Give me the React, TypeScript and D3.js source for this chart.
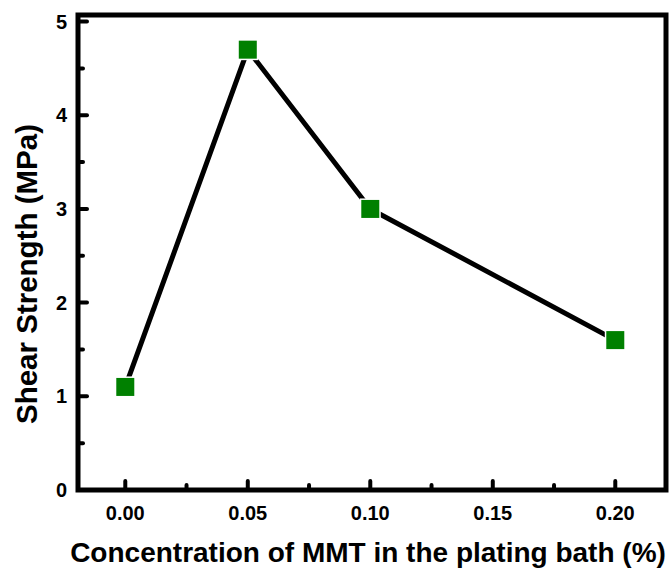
import React from "react";
import * as d3 from "d3";

const concentrations = [0.0, 0.05, 0.1, 0.2];
const shearStrength = [1.1, 4.7, 3.0, 1.6];
const xMajorTicks = [0.0, 0.05, 0.1, 0.15, 0.2];
const xMinorTicks = [0.025, 0.075, 0.125, 0.175];
const yMajorTicks = [0, 1, 2, 3, 4, 5];
const yMinorTicks = [0.5, 1.5, 2.5, 3.5, 4.5];
const xLabel = "Concentration of MMT in the plating bath (%)";
const yLabel = "Shear Strength (MPa)";

export default function App() {
  const W = 670, H = 573;
  const left = 78, right = 666, top = 15, bottom = 490;
  const x = d3.scaleLinear().domain([-0.0193, 0.2207]).range([left, right]);
  const y = d3.scaleLinear().domain([0, 5.07]).range([bottom, top]);
  const line = d3.line<number>().x((d, i) => x(concentrations[i])).y((d) => y(d));
  const font = "'Liberation Sans', Arial, sans-serif";
  const ms = 18;
  return (
    <svg width={W} height={H} style={{ position: "absolute", left: 0, top: 0, background: "#fff" }}>
      <rect x={0} y={0} width={W} height={H} fill="#fff" />
      <path d={line(shearStrength) || ""} fill="none" stroke="#000" strokeWidth={5} strokeLinejoin="round" />
      {shearStrength.map((v, i) => (
        <rect key={i} x={x(concentrations[i]) - ms / 2} y={y(v) - ms / 2} width={ms} height={ms}
          fill="#008000" stroke="#fff" strokeWidth={3} paintOrder="stroke" />
      ))}
      {xMajorTicks.map((t) => (
        <g key={"xm" + t}>
          <line x1={x(t)} x2={x(t)} y1={bottom} y2={bottom - 9} stroke="#000" strokeWidth={4} strokeLinecap="round" />
          <text x={x(t)} y={520} textAnchor="middle" fontFamily={font} fontWeight="bold" fontSize={20}>{d3.format(".2f")(t)}</text>
        </g>
      ))}
      {xMinorTicks.map((t) => (
        <line key={"xn" + t} x1={x(t)} x2={x(t)} y1={bottom} y2={bottom - 5} stroke="#000" strokeWidth={4} strokeLinecap="round" />
      ))}
      {yMajorTicks.map((t) => (
        <g key={"ym" + t}>
          <line x1={left} x2={left + 9} y1={y(t)} y2={y(t)} stroke="#000" strokeWidth={4} strokeLinecap="round" />
          <text x={67} y={y(t) + 7} textAnchor="end" fontFamily={font} fontWeight="bold" fontSize={20}>{t}</text>
        </g>
      ))}
      {yMinorTicks.map((t) => (
        <line key={"yn" + t} x1={left} x2={left + 5} y1={y(t)} y2={y(t)} stroke="#000" strokeWidth={4} strokeLinecap="round" />
      ))}
      <rect x={left} y={top} width={right - left} height={bottom - top} fill="none" stroke="#000" strokeWidth={5} />
      <text x={368} y={562} textAnchor="middle" fontFamily={font} fontWeight="bold" fontSize={28}>{xLabel}</text>
      <text transform={`translate(37, 274) rotate(-90)`} textAnchor="middle" fontFamily={font} fontWeight="bold" fontSize={29.5}>{yLabel}</text>
    </svg>
  );
}
